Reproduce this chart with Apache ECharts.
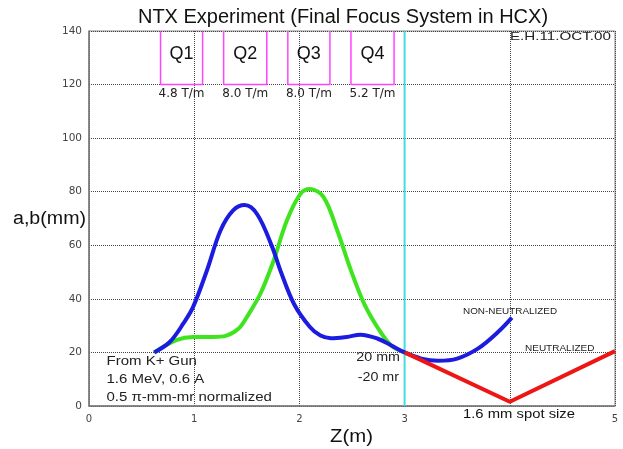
<!DOCTYPE html>
<html><head><meta charset="utf-8">
<script src="https://cdn.jsdelivr.net/npm/echarts@6/dist/echarts.min.js"></script>
<style>html,body{margin:0;padding:0;background:#fff}#c{width:623px;height:449px}</style>
</head><body><div id="c"></div>
<script>
// Envelope a (blue), b (green), neutralized (red)
const blueA = [[0.62,20],[0.77,24],[0.9,31],[0.99,37],[1.12,50.5],[1.25,65.5],[1.37,73],[1.48,75],[1.6,71.5],[1.74,59.5],[1.82,50.5],[1.95,38],[2.1,29.5],[2.2,26.3],[2.3,25.3],[2.45,25.8],[2.58,26.6],[2.74,25.2],[2.87,22.7],[3.0,20],[3.16,17.7],[3.32,16.9],[3.5,17.7],[3.7,21.5],[3.89,27.7],[4.02,33]];
const greenB = [[0.62,20],[0.83,24.6],[0.99,25.8],[1.18,25.8],[1.3,26.2],[1.42,28.8],[1.5,33.2],[1.63,42],[1.755,54.3],[1.88,69.2],[2.01,79.2],[2.1,81],[2.23,78],[2.36,65.5],[2.49,50.6],[2.615,38.2],[2.74,29.5],[2.87,22.7],[3.0,20]];
const redN = [[3.0,20],[4.0,1.6],[5.0,20.5]];
// Quadrupoles: name, start z, end z, gradient label
const quadNames = ['Q1','Q2','Q3','Q4'];
const quadStart = [0.68,1.28,1.89,2.49];
const quadEnd = [1.08,1.69,2.29,2.9];
const quadGrad = ['4.8 T/m','8.0 T/m','8.0 T/m','5.2 T/m'];
const quadBottom = 120, quadTop = 140;
const quadNameY = 131.5, quadGradY = 116.6;
const focusZ = 3;
const xTicks = [0,1,2,3,5];

const FONT = '"Liberation Sans", Arial, sans-serif';
const WFONT = '"DejaVu Sans", sans-serif';
const chart = echarts.init(document.getElementById('c'));
const series = [];
quadNames.forEach((q,i)=>{
  series.push({type:'line', silent:true, symbol:'none', lineStyle:{color:'#ff44ff', width:1.5},
    data:[[quadStart[i],quadTop],[quadStart[i],quadBottom],[quadEnd[i],quadBottom],[quadEnd[i],quadTop]], z:3});
});
series.push({type:'scatter', symbolSize:1, silent:true, itemStyle:{color:'rgba(0,0,0,0)', opacity:1},
  data: quadNames.map((q,i)=>({value:[(quadStart[i]+quadEnd[i])/2, quadNameY], name:q})),
  label:{show:true, position:'inside', formatter:p=>p.name, fontSize:18, color:'#111', fontFamily:FONT, textBorderWidth:0}, z:7});
series.push({type:'scatter', symbolSize:1, silent:true, itemStyle:{color:'rgba(0,0,0,0)', opacity:1},
  data: quadGrad.map((g,i)=>({value:[(quadStart[i]+quadEnd[i])/2, quadGradY], name:g})),
  label:{show:true, position:'inside', formatter:p=>p.name, fontSize:12, color:'#222', fontFamily:WFONT, textBorderWidth:0}, z:7});
series.push({type:'line', silent:true, symbol:'none', lineStyle:{color:'#44dddd', width:2}, data:[[focusZ,0],[focusZ,140]], z:3});
series.push({type:'line', symbol:'none', smooth:0.35, lineStyle:{color:'#1c1ce0', width:4}, data:blueA, z:5});
series.push({type:'line', symbol:'none', smooth:0.35, lineStyle:{color:'#3ee41e', width:4}, data:greenB, z:4});
series.push({type:'line', symbol:'none', lineStyle:{color:'#ee1515', width:4}, data:redN, z:6});

function txt(x, y, text, size, sx, align, color){
  return {type:'text', x:x, y:y, scaleX:sx, scaleY:1, z:10,
    style:{text:text, font:size+'px '+FONT, fill:color||'#222', textAlign:align||'left', textVerticalAlign:'middle'}};
}

chart.setOption({
  animation:false,
  backgroundColor:'#fff',
  grid:{left:89, right:8, top:31, bottom:43, show:true, borderColor:'#888', borderWidth:1},
  xAxis:{type:'value', min:0, max:5, interval:1,
    axisLine:{show:true, lineStyle:{color:'#777', width:1.5}}, axisTick:{show:false},
    axisLabel:{fontSize:10, color:'#444', fontFamily:WFONT, margin:8,
      formatter:v=> xTicks.indexOf(v)>=0 ? String(v) : ''},
    splitLine:{show:true, lineStyle:{color:'#444', type:'dotted', width:1}}},
  yAxis:{type:'value', min:0, max:140, interval:20,
    axisLine:{show:true, lineStyle:{color:'#777', width:1.5}}, axisTick:{show:false},
    axisLabel:{fontSize:10.5, color:'#444', fontFamily:WFONT, margin:7},
    splitLine:{show:true, lineStyle:{color:'#444', type:'dotted', width:1}}},
  series:series,
  graphic:[
    txt(343, 17, 'NTX Experiment (Final Focus System in HCX)', 20, 1, 'center', '#111'),
    txt(13, 219, 'a,b(mm)', 18, 1.09, 'left', '#111'),
    txt(330, 437, 'Z(m)', 18, 1.13, 'left', '#111'),
    txt(510, 37, 'E.H.11.OCT.00', 11, 1.38, 'left', '#222'),
    txt(106.5, 361.5, 'From K+ Gun', 12, 1.25, 'left'),
    txt(106.5, 380, '1.6 MeV, 0.6 A', 12, 1.25, 'left'),
    txt(106.5, 398, '0.5 \u03c0-mm-mr normalized', 12, 1.25, 'left'),
    txt(400, 358, '20 mm', 12, 1.19, 'right'),
    txt(399, 378, '-20 mr', 12, 1.19, 'right'),
    txt(463, 311.7, 'NON-NEUTRALIZED', 9, 1.1, 'left'),
    txt(525, 349, 'NEUTRALIZED', 9, 1.11, 'left'),
    txt(463, 414.7, '1.6 mm spot size', 13, 1.14, 'left', '#111')
  ]
});
</script></body></html>
